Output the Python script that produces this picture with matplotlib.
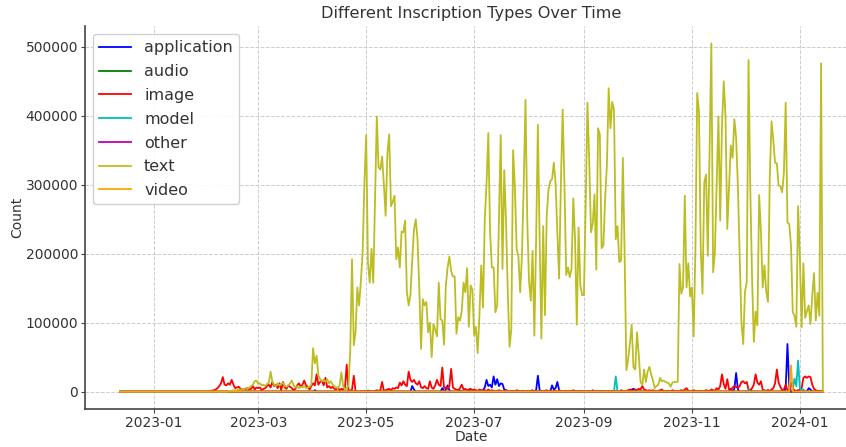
import pandas as pd
import matplotlib
matplotlib.use("Agg")
import matplotlib.pyplot as plt
import matplotlib.dates as mdates

# daily range covered by the chart
first_day = "2022-12-13"
last_day = "2024-01-14"

# text inscriptions, one value per day starting 2023-02-12 (nothing before)
text_start = "2023-02-12"
text_counts = [
    500, 1000, 1000, 2000, 1500, 2000, 3000, 2500, 4000,
    3000, 5000, 4000, 6000, 8000, 10000, 15000, 16000, 11000, 12000,
    9000, 10000, 8000, 11000, 13000, 29000, 14000, 10000, 8000, 12000,
    9000, 11000, 13000, 8000, 7000, 9000, 12000, 16000, 9000, 6000,
    8000, 5000, 7000, 6000, 8000, 5000, 6000, 7000, 10000, 63000,
    41000, 52000, 23000, 18000, 15000, 17000, 14000, 18000, 12000, 15000,
    10000, 8000, 6000, 5000, 9000, 28000, 8000, 3000, 5000, 8000,
    60000, 192000, 67000, 86000, 151000, 125000, 160000, 202000, 303000, 372000,
    187000, 158000, 207000, 158000, 280000, 399000, 325000, 322000, 341000, 300000,
    255000, 346000, 373000, 269000, 275000, 284000, 192000, 209000, 180000, 232000,
    231000, 248000, 144000, 125000, 140000, 190000, 235000, 250000, 221000, 150000,
    62000, 134000, 125000, 130000, 86000, 100000, 50000, 98000, 90000, 80000,
    158000, 105000, 103000, 68000, 154000, 180000, 196000, 175000, 167000, 167000,
    84000, 108000, 103000, 117000, 158000, 144000, 179000, 94000, 154000, 148000,
    81000, 94000, 56000, 112000, 183000, 122000, 250000, 302000, 375000, 231000,
    180000, 180000, 115000, 125000, 250000, 372000, 178000, 321000, 248000, 144000,
    65000, 91000, 350000, 298000, 207000, 196000, 144000, 198000, 300000, 423000,
    248000, 160000, 132000, 204000, 81000, 220000, 387000, 220000, 77000, 240000,
    111000, 255000, 293000, 305000, 308000, 332000, 302000, 230000, 164000, 302000,
    409000, 302000, 169000, 180000, 166000, 178000, 280000, 221000, 97000, 238000,
    154000, 140000, 140000, 270000, 419000, 336000, 231000, 244000, 286000, 177000,
    382000, 373000, 208000, 212000, 280000, 329000, 440000, 382000, 420000, 409000,
    221000, 240000, 188000, 190000, 339000, 201000, 31000, 47000, 70000, 97000,
    35000, 32000, 86000, 53000, 14000, 10000, 32000, 14000, 29000, 36000,
    25000, 16000, 5000, 8000, 10000, 20000, 15000, 16000, 14000, 13000,
    12000, 7000, 13000, 14000, 14000, 14000, 185000, 142000, 151000, 284000,
    151000, 186000, 138000, 151000, 80000, 207000, 433000, 406000, 209000, 142000,
    303000, 315000, 197000, 350000, 505000, 173000, 202000, 300000, 399000, 248000,
    385000, 450000, 399000, 236000, 298000, 357000, 339000, 395000, 368000, 298000,
    196000, 101000, 69000, 145000, 159000, 481000, 294000, 166000, 72000, 116000,
    96000, 285000, 233000, 151000, 183000, 145000, 130000, 310000, 392000, 365000,
    332000, 331000, 299000, 298000, 289000, 318000, 419000, 245000, 243000, 212000,
    115000, 110000, 94000, 269000, 196000, 93000, 186000, 107000, 117000, 125000,
    98000, 139000, 172000, 103000, 143000, 110000, 476000, 0,
]

# image inscriptions, one value per day starting 2023-02-01
image_start = "2023-02-01"
image_counts = [
    500, 1000, 1500, 2000, 3000, 5000, 8000, 12000, 21000, 10000,
    9000, 12000, 10000, 17000, 10000, 5000, 6000, 7000, 4000, 3000,
    4000, 3000, 5000, 3000, 4000, 8000, 3000, 6000, 5000, 6000,
    2000, 4000, 5000, 8000, 10000, 6000, 14000, 8000, 10000, 5000,
    12000, 2000, 14000, 6000, 4000, 9000, 7000, 5000, 2000, 4000,
    9000, 12000, 7000, 10000, 16000, 9000, 7000, 3000, 8000, 12000,
    9000, 25000, 10000, 14000, 16000, 9000, 20000, 6000, 8000, 5000,
    7000, 4000, 3000, 6000, 2000, 4000, 3000, 5000, 39000, 2000,
    1000, 3000, 23000, 500, 0, 0, 500, 0, 1000, 0,
    500, 1000, 0, 500, 1000, 2000, 1000, 2000, 14000, 1000,
    2000, 3000, 4000, 2000, 5000, 4000, 6000, 5000, 13000, 9000,
    15000, 10000, 8000, 29000, 17000, 14000, 17000, 12000, 10000, 15000,
    6000, 5000, 8000, 5000, 4000, 15000, 6000, 4000, 9000, 17000,
    10000, 8000, 35000, 5000, 6000, 4000, 8000, 33000, 6000, 4000,
    3000, 2000, 5000, 10000, 3000, 4000, 2000, 3000, 4000, 2000,
    3000, 2000, 1000, 3000, 2000, 1000, 2000, 1000, 3000, 1000,
    2000, 1000, 0, 1000, 2000, 1000, 0, 1000, 2000, 1000,
    0, 1000, 1000, 0, 2000, 1000, 0, 1000, 1000, 0,
    1000, 0, 1000, 2000, 0, 1000, 0, 1000, 1000, 0,
    1000, 2000, 0, 1000, 0, 1000, 1000, 0, 2000, 1000,
    0, 1000, 1000, 0, 1000, 0, 2000, 1000, 0, 1000,
    1000, 0, 1000, 0, 1000, 1000, 0, 2000, 0, 1000,
    0, 1000, 1000, 0, 1000, 0, 1000, 0, 1000, 1000,
    0, 1000, 0, 2000, 1000, 0, 1000, 2000, 3000, 2000,
    1000, 3000, 2000, 4000, 3000, 8000, 3000, 2000, 1000, 2000,
    1000, 2000, 1000, 0, 1000, 2000, 3000, 1000, 0, 1000,
    1000, 0, 2000, 1000, 0, 1000, 1000, 2000, 1000, 3000,
    5000, 1000, 0, 1000, 2000, 1000, 0, 1000, 1000, 0,
    1000, 2000, 1000, 1000, 3000, 2000, 1000, 5000, 3000, 8000,
    25000, 11000, 4000, 18000, 3000, 2000, 6000, 8000, 7000, 5000,
    8000, 14000, 15000, 12000, 14000, 3000, 2000, 5000, 10000, 25000,
    13000, 10000, 15000, 3000, 2000, 1000, 2000, 1000, 3000, 5000,
    12000, 32000, 13000, 7000, 2000, 3000, 10000, 2000, 3000, 13000,
    4000, 2000, 1000, 2000, 3000, 5000, 20000, 22000, 20000, 22000,
    21000, 10000, 4000, 2000, 1000, 1000, 1000, 0,
]

# the other types only have a few non-zero days
application_days = {
    "2023-04-02": 2000, "2023-05-02": 1500, "2023-05-27": 8000, "2023-05-28": 3000,
    "2023-06-13": 5000, "2023-06-15": 3000, "2023-06-16": 9000, "2023-06-17": 2000,
    "2023-06-23": 1500, "2023-06-28": 2000, "2023-07-06": 2000, "2023-07-07": 6000,
    "2023-07-08": 17000, "2023-07-09": 8000, "2023-07-10": 10000, "2023-07-11": 6000,
    "2023-07-12": 22000, "2023-07-13": 10000, "2023-07-14": 18000, "2023-07-15": 8000,
    "2023-07-16": 12000, "2023-07-17": 11000, "2023-07-18": 3000, "2023-07-19": 2000,
    "2023-07-26": 1000, "2023-08-05": 2000, "2023-08-06": 23000, "2023-08-07": 2000,
    "2023-08-14": 9000, "2023-08-15": 3000, "2023-08-16": 5000, "2023-08-17": 14000,
    "2023-08-18": 2000, "2023-08-30": 1000, "2023-09-28": 3000, "2023-09-29": 4000,
    "2023-09-30": 2000, "2023-11-23": 4000, "2023-11-25": 4000, "2023-11-26": 27000,
    "2023-11-27": 3000, "2023-12-04": 3000, "2023-12-14": 2000, "2023-12-24": 5000,
    "2023-12-25": 69000, "2023-12-26": 8000, "2024-01-06": 5000, "2024-01-07": 3000,
}
audio_days = {}
model_days = {
    "2023-09-19": 22000, "2023-12-03": 3000, "2023-12-12": 2000, "2023-12-28": 3000,
    "2023-12-29": 19000, "2023-12-30": 8000, "2023-12-31": 45000, "2024-01-01": 5000,
    "2024-01-02": 2000, "2024-01-03": 3000,
}
other_days = {"2023-12-26": 1500}
video_days = {"2023-12-27": 38000}

type_names = ["application", "audio", "image", "model", "other", "text", "video"]
line_colors = ["b", "g", "r", "c", "m", "#bcbd22", "orange"]

days = pd.date_range(first_day, last_day, freq="D")


def from_list(start, values):
    s = pd.Series(values, index=pd.date_range(start, periods=len(values), freq="D"))
    return s.reindex(days, fill_value=0)


def from_days(d):
    s = pd.Series(d, dtype=float)
    s.index = pd.to_datetime(s.index)
    return s.reindex(days, fill_value=0)


df = pd.DataFrame({
    "application": from_days(application_days),
    "audio": from_days(audio_days),
    "image": from_list(image_start, image_counts),
    "model": from_days(model_days),
    "other": from_days(other_days),
    "text": from_list(text_start, text_counts),
    "video": from_days(video_days),
}, index=days)

fig = plt.figure(figsize=(8.46, 4.47), dpi=100)
ax = fig.add_axes([85 / 846, 38 / 447, 773 / 846, 383 / 447])

for name, col in zip(type_names, line_colors):
    ax.plot(df.index, df[name], color=col, linewidth=1.3, label=name)

ax.set_title("Different Inscription Types Over Time", fontsize=11.6, color="#333333")
ax.set_xlabel("Date", fontsize=10, color="#333333", labelpad=0)
ax.set_ylabel("Count", fontsize=10, color="#333333", labelpad=1)

ax.xaxis.set_major_locator(mdates.MonthLocator(bymonth=[1, 3, 5, 7, 9, 11]))
ax.xaxis.set_major_formatter(mdates.DateFormatter("%Y-%m"))
ax.set_yticks([0, 100000, 200000, 300000, 400000, 500000])
ax.tick_params(labelsize=10, colors="#444444", labelcolor="#333333", length=3, pad=2)

ax.grid(True, linestyle="--", color="#cccccc", linewidth=0.7)
for side in ["top", "right"]:
    ax.spines[side].set_visible(False)
for side in ["left", "bottom"]:
    ax.spines[side].set_color("#444444")
    ax.spines[side].set_linewidth(1.2)

leg = ax.legend(loc="upper left", fontsize=11.5, framealpha=0.9, edgecolor="#cccccc",
                labelspacing=0.55)
for t in leg.get_texts():
    t.set_color("#333333")

fig.savefig("out.png", dpi=100)
